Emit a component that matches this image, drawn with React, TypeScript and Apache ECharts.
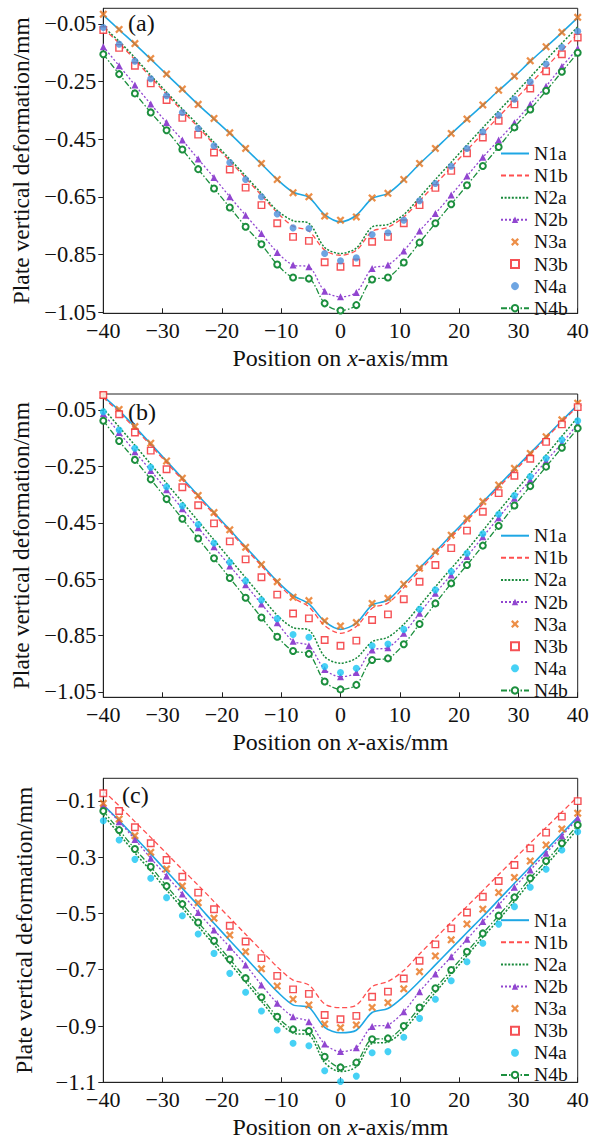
import React, { useEffect, useRef } from 'react';
import * as echarts from 'echarts';

// ---------- data ----------
const X_POS = [-40, -37.33, -34.67, -32, -29.33, -26.67, -24, -21.33, -18.67, -16, -13.33, -10.67, -8, -5.33, -2.67, 0, 2.67, 5.33, 8, 10.67, 13.33, 16, 18.67, 21.33, 24, 26.67, 29.33, 32, 34.67, 37.33, 40];
const SERIES_NAMES = ['N1a', 'N1b', 'N2a', 'N2b', 'N3a', 'N3b', 'N4a', 'N4b'];

// panel (a)
const A_N1A = [-0.019,-0.070,-0.120,-0.172,-0.225,-0.277,-0.330,-0.380,-0.430,-0.483,-0.536,-0.590,-0.634,-0.652,-0.712,-0.737,-0.714,-0.656,-0.638,-0.592,-0.536,-0.484,-0.431,-0.381,-0.332,-0.281,-0.232,-0.180,-0.130,-0.080,-0.028];
const A_N1B = [-0.065,-0.117,-0.174,-0.235,-0.294,-0.352,-0.408,-0.468,-0.526,-0.585,-0.645,-0.705,-0.752,-0.769,-0.835,-0.853,-0.836,-0.770,-0.756,-0.720,-0.664,-0.606,-0.548,-0.488,-0.430,-0.372,-0.315,-0.258,-0.200,-0.142,-0.085];
const A_N2A = [-0.060,-0.110,-0.167,-0.228,-0.287,-0.345,-0.401,-0.461,-0.519,-0.578,-0.638,-0.698,-0.733,-0.742,-0.826,-0.847,-0.828,-0.755,-0.746,-0.712,-0.652,-0.590,-0.530,-0.470,-0.410,-0.352,-0.294,-0.235,-0.175,-0.117,-0.060];
const A_N2B = [-0.129,-0.195,-0.262,-0.328,-0.392,-0.453,-0.519,-0.583,-0.650,-0.714,-0.777,-0.843,-0.887,-0.893,-0.978,-0.997,-0.982,-0.899,-0.887,-0.838,-0.769,-0.708,-0.644,-0.578,-0.513,-0.453,-0.393,-0.329,-0.266,-0.198,-0.135];
const A_N3A = [-0.016,-0.069,-0.118,-0.170,-0.224,-0.276,-0.329,-0.378,-0.428,-0.482,-0.534,-0.590,-0.636,-0.650,-0.717,-0.731,-0.720,-0.654,-0.638,-0.590,-0.534,-0.482,-0.430,-0.380,-0.331,-0.280,-0.231,-0.178,-0.129,-0.079,-0.027];
const A_N3B = [-0.071,-0.133,-0.195,-0.256,-0.314,-0.376,-0.434,-0.496,-0.555,-0.618,-0.679,-0.742,-0.789,-0.803,-0.877,-0.893,-0.878,-0.806,-0.789,-0.742,-0.679,-0.619,-0.560,-0.499,-0.444,-0.386,-0.329,-0.274,-0.214,-0.155,-0.097];
const A_N4A = [-0.062,-0.120,-0.179,-0.240,-0.299,-0.357,-0.413,-0.473,-0.531,-0.590,-0.650,-0.710,-0.758,-0.760,-0.847,-0.872,-0.862,-0.781,-0.775,-0.731,-0.664,-0.604,-0.544,-0.482,-0.424,-0.367,-0.311,-0.251,-0.189,-0.131,-0.075];
const A_N4B = [-0.155,-0.224,-0.291,-0.357,-0.419,-0.486,-0.554,-0.621,-0.687,-0.754,-0.815,-0.885,-0.930,-0.934,-1.020,-1.045,-1.026,-0.937,-0.930,-0.878,-0.809,-0.742,-0.676,-0.610,-0.543,-0.477,-0.409,-0.347,-0.282,-0.216,-0.150];

// panel (b)
const B_N1A = [-0.002,-0.052,-0.110,-0.170,-0.231,-0.292,-0.353,-0.414,-0.475,-0.536,-0.597,-0.658,-0.708,-0.738,-0.800,-0.828,-0.806,-0.742,-0.724,-0.668,-0.611,-0.553,-0.494,-0.436,-0.377,-0.318,-0.260,-0.203,-0.145,-0.088,-0.032];
const B_N1B = [-0.006,-0.058,-0.116,-0.176,-0.237,-0.298,-0.359,-0.420,-0.481,-0.542,-0.603,-0.664,-0.716,-0.748,-0.815,-0.842,-0.818,-0.753,-0.735,-0.680,-0.620,-0.561,-0.502,-0.443,-0.384,-0.325,-0.267,-0.209,-0.150,-0.093,-0.037];
const B_N2A = [-0.045,-0.110,-0.175,-0.242,-0.310,-0.377,-0.444,-0.511,-0.578,-0.645,-0.712,-0.778,-0.822,-0.830,-0.925,-0.948,-0.930,-0.872,-0.856,-0.810,-0.745,-0.677,-0.612,-0.547,-0.478,-0.409,-0.342,-0.275,-0.210,-0.143,-0.076];
const B_N2B = [-0.063,-0.130,-0.198,-0.265,-0.333,-0.400,-0.468,-0.535,-0.603,-0.670,-0.738,-0.805,-0.870,-0.886,-0.970,-0.996,-0.981,-0.901,-0.893,-0.842,-0.771,-0.700,-0.635,-0.570,-0.500,-0.432,-0.363,-0.298,-0.231,-0.168,-0.100];
const B_N3A = [0.002,-0.048,-0.109,-0.168,-0.231,-0.292,-0.353,-0.414,-0.475,-0.537,-0.598,-0.659,-0.714,-0.726,-0.798,-0.816,-0.804,-0.736,-0.718,-0.668,-0.611,-0.552,-0.494,-0.435,-0.375,-0.316,-0.257,-0.204,-0.145,-0.085,-0.026];
const B_N3B = [0.003,-0.065,-0.130,-0.194,-0.260,-0.324,-0.388,-0.452,-0.516,-0.580,-0.643,-0.705,-0.772,-0.789,-0.866,-0.886,-0.868,-0.795,-0.775,-0.721,-0.659,-0.600,-0.540,-0.478,-0.411,-0.345,-0.283,-0.223,-0.163,-0.101,-0.040];
const B_N4A = [-0.056,-0.121,-0.186,-0.253,-0.322,-0.390,-0.456,-0.522,-0.590,-0.656,-0.724,-0.790,-0.846,-0.856,-0.960,-0.981,-0.966,-0.886,-0.880,-0.828,-0.757,-0.688,-0.623,-0.558,-0.489,-0.420,-0.353,-0.286,-0.221,-0.156,-0.088];
const B_N4B = [-0.088,-0.160,-0.227,-0.296,-0.366,-0.436,-0.506,-0.576,-0.646,-0.716,-0.786,-0.854,-0.905,-0.915,-1.013,-1.041,-1.025,-0.937,-0.931,-0.881,-0.809,-0.736,-0.665,-0.600,-0.531,-0.461,-0.389,-0.320,-0.251,-0.184,-0.115];

// panel (c)
const C_N1A = [-0.115,-0.170,-0.229,-0.289,-0.350,-0.411,-0.472,-0.535,-0.596,-0.657,-0.718,-0.778,-0.825,-0.834,-0.905,-0.924,-0.915,-0.852,-0.838,-0.795,-0.741,-0.683,-0.625,-0.568,-0.511,-0.452,-0.393,-0.334,-0.275,-0.216,-0.158];
const C_N1B = [-0.064,-0.118,-0.174,-0.230,-0.287,-0.344,-0.400,-0.458,-0.516,-0.574,-0.632,-0.690,-0.737,-0.754,-0.822,-0.835,-0.826,-0.760,-0.742,-0.703,-0.644,-0.588,-0.531,-0.475,-0.419,-0.362,-0.306,-0.250,-0.195,-0.140,-0.085];
const C_N2A = [-0.150,-0.218,-0.285,-0.349,-0.417,-0.481,-0.546,-0.611,-0.677,-0.744,-0.812,-0.880,-0.925,-0.932,-1.030,-1.062,-1.045,-0.962,-0.957,-0.914,-0.848,-0.780,-0.715,-0.650,-0.585,-0.522,-0.457,-0.389,-0.328,-0.265,-0.200];
const C_N2B = [-0.115,-0.174,-0.237,-0.304,-0.367,-0.431,-0.497,-0.559,-0.620,-0.683,-0.754,-0.819,-0.867,-0.885,-0.964,-0.991,-0.977,-0.902,-0.896,-0.849,-0.778,-0.715,-0.654,-0.592,-0.529,-0.470,-0.407,-0.346,-0.286,-0.225,-0.162];
const C_N3A = [-0.109,-0.165,-0.224,-0.283,-0.342,-0.403,-0.462,-0.517,-0.577,-0.636,-0.697,-0.758,-0.805,-0.825,-0.893,-0.906,-0.896,-0.834,-0.817,-0.768,-0.707,-0.651,-0.594,-0.538,-0.485,-0.426,-0.372,-0.314,-0.257,-0.200,-0.144];
const C_N3B = [-0.073,-0.136,-0.194,-0.251,-0.310,-0.370,-0.426,-0.485,-0.544,-0.600,-0.659,-0.722,-0.770,-0.786,-0.861,-0.876,-0.864,-0.796,-0.778,-0.731,-0.668,-0.610,-0.553,-0.497,-0.441,-0.385,-0.328,-0.269,-0.213,-0.156,-0.101];
const C_N4A = [-0.171,-0.239,-0.308,-0.375,-0.444,-0.508,-0.573,-0.642,-0.713,-0.780,-0.847,-0.914,-0.961,-0.970,-1.059,-1.097,-1.078,-0.995,-0.991,-0.940,-0.873,-0.805,-0.739,-0.672,-0.606,-0.538,-0.476,-0.407,-0.343,-0.275,-0.210];
const C_N4B = [-0.136,-0.204,-0.271,-0.334,-0.403,-0.467,-0.532,-0.597,-0.663,-0.730,-0.798,-0.867,-0.912,-0.918,-1.009,-1.047,-1.030,-0.947,-0.944,-0.900,-0.834,-0.766,-0.701,-0.636,-0.571,-0.508,-0.443,-0.375,-0.314,-0.251,-0.186];

const Y_TICKS_AB = [-1.05, -0.85, -0.65, -0.45, -0.25, -0.05];
const Y_TICKS_C = [-1.1, -0.9, -0.7, -0.5, -0.3, -0.1];

// ---------- styling ----------
const FONT = 'Liberation Serif';
const INK = '#111';
const COLORS = {
  N1a: '#1ea7e4',
  N1b: '#ff4f4f',
  N2a: '#17893a',
  N2b: '#9146d0',
  N3a: '#e8731a',
  N3b: '#f2262b',
  N4b: '#1c8f3e',
};
const X_SYMBOL = 'path://M0,2L2,0L5,3L8,0L10,2L7,5L10,8L8,10L5,7L2,10L0,8L3,5Z';
const SQUARE_SYMBOL = 'path://M0,0L10,0L10,10L0,10Z';

const LEGEND_FONT = 19.6;
const LEGEND_STEP = 21.7;

const PANELS = [
  { key: 'a', tag: '(a)', top: 8.3, height: 305, min: -1.0545, max: 0.0045, ticks: Y_TICKS_AB, digits: 2, legendMid: 153.3, tagLeft: 128, tagTop: 11, n4a: '#4a8edb',
    d: { N1a: A_N1A, N1b: A_N1B, N2a: A_N2A, N2b: A_N2B, N3a: A_N3A, N3b: A_N3B, N4a: A_N4A, N4b: A_N4B } },
  { key: 'b', tag: '(b)', top: 394, height: 303.3, min: -1.069, max: 0.0067, ticks: Y_TICKS_AB, digits: 2, legendMid: 535.5, tagLeft: 128, tagTop: 399.5, n4a: '#18c5f2',
    d: { N1a: B_N1A, N1b: B_N1B, N2a: B_N2A, N2b: B_N2B, N3a: B_N3A, N3b: B_N3B, N4a: B_N4A, N4b: B_N4B } },
  { key: 'c', tag: '(c)', top: 778.3, height: 304, min: -1.1, max: -0.02, ticks: Y_TICKS_C, digits: 1, legendMid: 920, tagLeft: 122, tagTop: 783, n4a: '#18c5f2',
    d: { N1a: C_N1A, N1b: C_N1B, N2a: C_N2A, N2b: C_N2B, N3a: C_N3A, N3b: C_N3B, N4a: C_N4A, N4b: C_N4B } },
];

const GRID_LEFT = 103.3;
const GRID_WIDTH = 474.4;
const LINE_ONLY = ['N1a', 'N1b', 'N2a'];

const minus = (s: string) => s.replace('-', '\u2212');
const pair = (ys: number[]) => X_POS.map((x, i) => [x, ys[i]]);

function buildOption() {
  const grid: any[] = [];
  const xAxis: any[] = [];
  const yAxis: any[] = [];
  const series: any[] = [];
  const legend: any[] = [];
  const graphic: any[] = [];

  PANELS.forEach((p, idx) => {
    grid.push({
      left: GRID_LEFT, top: p.top, width: GRID_WIDTH, height: p.height,
      show: true, borderColor: '#222', borderWidth: 1, backgroundColor: 'transparent',
    });
    xAxis.push({
      type: 'value', gridIndex: idx, min: -40, max: 40, interval: 10,
      name: 'Position on {i|x}-axis/mm', nameLocation: 'middle', nameGap: 33,
      nameTextStyle: {
        fontFamily: FONT, fontSize: 24, color: INK,
        rich: { i: { fontFamily: FONT, fontSize: 24, fontStyle: 'italic', color: INK } },
      },
      axisLine: { show: true, onZero: false, lineStyle: { color: '#222', width: 1 } },
      axisTick: { show: true, inside: true, length: 5, lineStyle: { color: '#222' } },
      axisLabel: {
        fontFamily: FONT, fontSize: 22, color: INK, margin: 6,
        formatter: (v: number) => minus(String(v)),
      },
      splitLine: { show: false },
    });
    yAxis.push({
      type: 'value', gridIndex: idx, min: p.min, max: p.max,
      name: 'Plate vertical deformation/mm', nameLocation: 'middle', nameGap: 67,
      nameTextStyle: { fontFamily: FONT, fontSize: 23.5, color: INK },
      axisLine: { show: true, onZero: false, lineStyle: { color: '#222', width: 1 } },
      axisTick: { show: true, inside: false, length: 5, customValues: p.ticks, lineStyle: { color: '#222' } },
      axisLabel: {
        fontFamily: FONT, fontSize: 22.5, color: INK, margin: 7,
        customValues: p.ticks,
        formatter: (v: number) => minus(v.toFixed(p.digits)),
      },
      splitLine: { show: false },
    });

    const nm = (n: string) => `${n}#${p.key}`;
    const base = { xAxisIndex: idx, yAxisIndex: idx };
    series.push(
      { ...base, name: nm('N1a'), type: 'line', data: pair(p.d.N1a), symbol: 'none', smooth: 0.3,
        lineStyle: { color: COLORS.N1a, width: 1.6 }, itemStyle: { color: COLORS.N1a }, z: 2 },
      { ...base, name: nm('N1b'), type: 'line', data: pair(p.d.N1b), symbol: 'none', smooth: 0.3,
        lineStyle: { color: COLORS.N1b, width: 1.3, type: [5, 3] }, itemStyle: { color: COLORS.N1b }, z: 2 },
      { ...base, name: nm('N2a'), type: 'line', data: pair(p.d.N2a), symbol: 'none', smooth: 0.3,
        lineStyle: { color: COLORS.N2a, width: 1.5, type: [2, 1.6] }, itemStyle: { color: COLORS.N2a }, z: 2 },
      { ...base, name: nm('N2b'), type: 'line', data: pair(p.d.N2b), symbol: 'triangle', symbolSize: 7, smooth: 0.3,
        lineStyle: { color: COLORS.N2b, width: 1.3, type: [2, 2] }, itemStyle: { color: COLORS.N2b }, z: 3 },
      { ...base, name: nm('N3a'), type: 'scatter', data: pair(p.d.N3a), symbol: X_SYMBOL, symbolSize: 8,
        itemStyle: { color: COLORS.N3a }, z: 4 },
      { ...base, name: nm('N3b'), type: 'scatter', data: pair(p.d.N3b), symbol: SQUARE_SYMBOL, symbolSize: 6.5,
        itemStyle: { color: '#fff', borderColor: COLORS.N3b, borderWidth: 1.4 }, z: 4 },
      { ...base, name: nm('N4a'), type: 'scatter', data: pair(p.d.N4a), symbol: 'circle', symbolSize: 7,
        itemStyle: { color: p.n4a }, z: 4 },
      { ...base, name: nm('N4b'), type: 'line', data: pair(p.d.N4b), symbol: 'emptyCircle', symbolSize: 6, smooth: 0.3,
        lineStyle: { color: COLORS.N4b, width: 1.3, type: [6, 2, 1.5, 2] },
        itemStyle: { color: COLORS.N4b, borderColor: COLORS.N4b, borderWidth: 1.5 }, z: 5 },
    );

    legend.push({
      left: 500, top: p.legendMid - LEGEND_FONT / 2, orient: 'vertical', padding: 0,
      itemWidth: 28, itemHeight: 8, itemGap: LEGEND_STEP - LEGEND_FONT, selectedMode: false,
      data: SERIES_NAMES.map((n) =>
        LINE_ONLY.includes(n) ? { name: nm(n), itemStyle: { opacity: 0 } } : { name: nm(n) }
      ),
      formatter: (n: string) => n.split('#')[0],
      textStyle: { fontFamily: FONT, fontSize: LEGEND_FONT, color: INK },
    });

    graphic.push({
      type: 'text', left: p.tagLeft, top: p.tagTop,
      style: { text: p.tag, fontFamily: FONT, fontSize: 24, fill: INK },
    });
  });

  return {
    animation: false,
    backgroundColor: '#fff',
    grid, xAxis, yAxis, series, legend, graphic,
  };
}

export default function App() {
  const ref = useRef<HTMLDivElement>(null);
  useEffect(() => {
    if (!ref.current) return;
    const chart = echarts.init(ref.current, null, { renderer: 'svg' });
    chart.setOption(buildOption() as any);
    return () => chart.dispose();
  }, []);
  return (
    <div
      ref={ref}
      style={{ position: 'absolute', left: 0, top: 0, width: 599, height: 1144, background: '#fff' }}
    />
  );
}
